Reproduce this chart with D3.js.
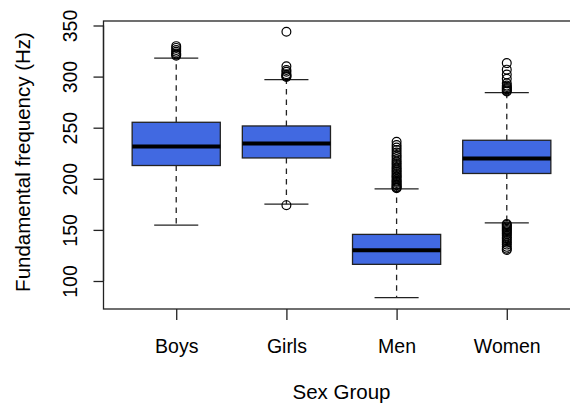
<!DOCTYPE html>
<html>
<head>
<meta charset="utf-8">
<script src="https://cdn.jsdelivr.net/npm/d3@7"></script>
<style>
  html, body { margin: 0; padding: 0; background: #fff; }
  svg { display: block; font-family: "Liberation Sans", Arial, sans-serif; }
</style>
</head>
<body>
<svg id="chart" width="570" height="403"></svg>
<script>
// ---- data ----
const categories = ["Boys", "Girls", "Men", "Women"];
const lowerWhisker = [154.7, 175.2, 83.7, 156.9];
const q1Values     = [213.0, 220.4, 116.3, 205.2];
const medianValues = [231.5, 234.5, 130.0, 219.8];
const q3Values     = [255.3, 251.7, 145.6, 237.7];
const upperWhisker = [318.1, 297.0, 190.1, 284.3];
const boysOutliers  = [320.5, 321.5, 322.6, 324.2, 326.0, 328.1, 329.8];
const girlsOutliers = [174.2, 299.6, 300.3, 301.2, 302.4, 304.8, 306.5, 310.1, 343.9];
const menOutliers   = [190.8, 191.5, 192.3, 193.6, 194.4, 195.9, 197.1, 198.0, 199.6, 201.2,
                       202.5, 203.8, 205.4, 207.0, 208.3, 210.1, 211.6, 213.5, 215.2, 216.9,
                       219.0, 221.4, 223.2, 225.8, 228.1, 230.6, 233.0, 236.2];
const womenOutliers = [285.4, 286.3, 287.5, 288.6, 289.8, 291.2, 293.4, 297.9, 302.1, 306.8, 313.2,
                       155.8, 154.9, 153.6, 152.4, 151.1, 149.8, 148.7, 147.2, 145.9, 144.3,
                       142.6, 141.0, 139.2, 137.5, 135.6, 133.4, 131.6, 130.3];
const outlierLists = [boysOutliers, girlsOutliers, menOutliers, womenOutliers];
const yTicks = [100, 150, 200, 250, 300, 350];
const xTitle = "Sex Group";
const yTitle = "Fundamental frequency (Hz)";

const groups = categories.map((c, i) => ({
  cat: c, lo: lowerWhisker[i], q1: q1Values[i], med: medianValues[i],
  q3: q3Values[i], hi: upperWhisker[i], out: outlierLists[i]
}));

// ---- layout ----
const svg = d3.select("#chart");
const plot = { left: 103.5, top: 21, right: 579.5, bottom: 309 };
const x = d3.scalePoint().domain(categories).range([plot.left, plot.right]).padding(0.66);
const y = d3.scaleLinear().domain([72.6, 354.4]).range([plot.bottom, plot.top]);
const step = x.step();
const boxW = step * 0.8;
const capW = boxW * 0.5;
const fsTick = 19.5;
const fsTitle = 20.5;
const ink = "#222";

// frame
svg.append("rect")
  .attr("x", plot.left).attr("y", plot.top)
  .attr("width", plot.right - plot.left).attr("height", plot.bottom - plot.top)
  .attr("fill", "none").attr("stroke", ink).attr("stroke-width", 1.3);

// y axis
const yAxis = svg.append("g")
  .attr("transform", `translate(${plot.left},0)`)
  .call(d3.axisLeft(y).tickValues(yTicks).tickSize(10).tickPadding(0).tickFormat(d3.format("d")));
yAxis.select(".domain").attr("d", `M0,${y(yTicks[0])}V${y(yTicks[yTicks.length-1])}`)
  .attr("stroke", ink).attr("stroke-width", 1.3);
yAxis.selectAll(".tick line").attr("stroke", ink).attr("stroke-width", 1.3);
yAxis.selectAll(".tick text")
  .attr("x", null).attr("dy", null)
  .attr("transform", "translate(-27,0) rotate(-90)")
  .attr("text-anchor", "middle")
  .attr("font-size", fsTick).attr("font-family", "Liberation Sans, Arial, sans-serif")
  .attr("fill", "#000");

// x axis
const xAxis = svg.append("g")
  .attr("transform", `translate(0,${plot.bottom})`)
  .call(d3.axisBottom(x).tickSize(11).tickPadding(0));
xAxis.select(".domain").remove();
xAxis.selectAll(".tick line").attr("stroke", ink).attr("stroke-width", 1.3);
xAxis.selectAll(".tick text")
  .attr("y", 44).attr("dy", null)
  .attr("font-size", fsTick).attr("font-family", "Liberation Sans, Arial, sans-serif")
  .attr("fill", "#000");

// titles
svg.append("text")
  .attr("x", x("Men") - step / 2).attr("y", 399)
  .attr("text-anchor", "middle").attr("font-size", fsTitle).text(xTitle);
svg.append("text")
  .attr("transform", `translate(30,${(plot.top + plot.bottom) / 2 - 3}) rotate(-90)`)
  .attr("text-anchor", "middle").attr("font-size", fsTitle).text(yTitle);

// boxes
const g = svg.append("g");
groups.forEach(d => {
  const cx = x(d.cat);
  const gg = g.append("g");
  // whiskers (dashed)
  gg.append("line").attr("x1", cx).attr("x2", cx).attr("y1", y(d.q3)).attr("y2", y(d.hi))
    .attr("stroke", ink).attr("stroke-width", 1.3).attr("stroke-dasharray", "5.5,5");
  gg.append("line").attr("x1", cx).attr("x2", cx).attr("y1", y(d.q1)).attr("y2", y(d.lo))
    .attr("stroke", ink).attr("stroke-width", 1.3).attr("stroke-dasharray", "5.5,5");
  // caps
  [d.hi, d.lo].forEach(v => {
    gg.append("line").attr("x1", cx - capW / 2).attr("x2", cx + capW / 2)
      .attr("y1", y(v)).attr("y2", y(v)).attr("stroke", ink).attr("stroke-width", 1.3);
  });
  // box
  gg.append("rect").attr("x", cx - boxW / 2).attr("width", boxW)
    .attr("y", y(d.q3)).attr("height", y(d.q1) - y(d.q3))
    .attr("fill", "#4169E1").attr("stroke", ink).attr("stroke-width", 1.3);
  // median
  gg.append("line").attr("x1", cx - boxW / 2).attr("x2", cx + boxW / 2)
    .attr("y1", y(d.med)).attr("y2", y(d.med)).attr("stroke", "#000").attr("stroke-width", 4);
  // outliers
  gg.selectAll("circle").data(d.out).join("circle")
    .attr("cx", cx).attr("cy", v => y(v)).attr("r", 4.4)
    .attr("fill", "none").attr("stroke", "#000").attr("stroke-width", 1.2);
});
</script>
</body>
</html>
